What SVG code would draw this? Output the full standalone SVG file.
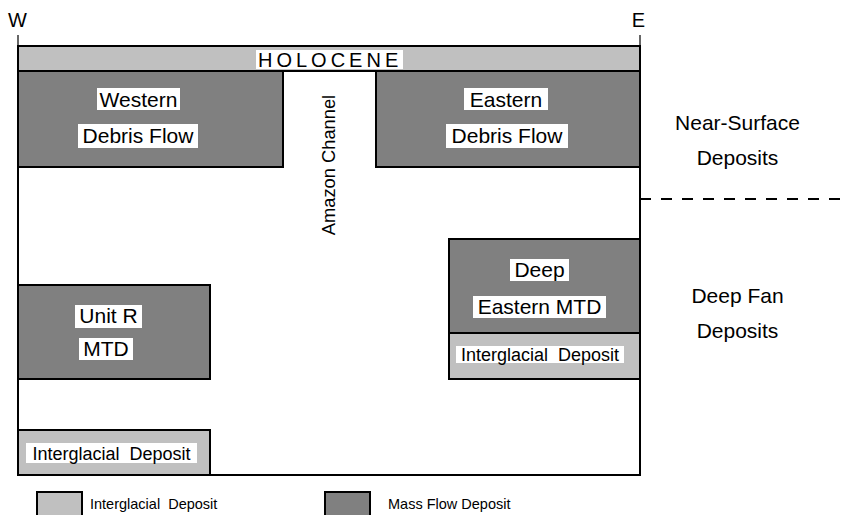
<svg xmlns="http://www.w3.org/2000/svg" width="841" height="515" viewBox="0 0 841 515">
<style>
text{font-family:"Liberation Sans",Arial,sans-serif;fill:#000}
.lt{fill:#c0c0c0;stroke:#000;stroke-width:2}
.dk{fill:#808080;stroke:#000;stroke-width:2}
.bg{fill:#fff}
.m{font-size:21px;text-anchor:middle}
.s{font-size:18px;text-anchor:middle}
.lg{font-size:14.5px}
.ln{stroke:#000;stroke-width:2;fill:none}
.tk{stroke:#000;stroke-width:1.2}
</style>
<rect width="841" height="515" fill="#fff"/>
<g id="frame">
<line class="tk" x1="18" y1="35" x2="18" y2="46"/>
<line class="tk" x1="640" y1="35" x2="640" y2="46"/>
<polyline class="ln" points="18,46 18,475 640,475 640,46"/>
<text x="17.5" y="27" font-size="20" text-anchor="middle">W</text>
<text x="638.5" y="27" font-size="20" text-anchor="middle">E</text>
</g>
<g id="holocene">
<rect class="lt" x="18" y="46" width="622" height="25"/>
<rect class="bg" x="256" y="50" width="147" height="19"/>
<text x="258" y="67" font-size="20" letter-spacing="4">HOLOCENE</text>
</g>
<g id="western-debris-flow">
<rect class="dk" x="18" y="71" width="265" height="96"/>
<rect class="bg" x="97" y="88" width="83" height="22"/>
<text class="m" x="138.5" y="107">Western</text>
<rect class="bg" x="78" y="124" width="120" height="24"/>
<text class="m" x="138" y="143">Debris Flow</text>
</g>
<g id="eastern-debris-flow">
<rect class="dk" x="376" y="71" width="264" height="96"/>
<rect class="bg" x="464" y="88" width="84" height="22"/>
<text class="m" x="506" y="107">Eastern</text>
<rect class="bg" x="446" y="124" width="122" height="24"/>
<text class="m" x="507" y="143">Debris Flow</text>
</g>
<g id="amazon-channel">
<text x="0" y="0" font-size="18.3" text-anchor="middle" transform="translate(335,165) rotate(-90)">Amazon Channel</text>
</g>
<g id="near-surface-deposits">
<text class="m" x="737.5" y="130">Near-Surface</text>
<text class="m" x="737.5" y="165">Deposits</text>
</g>
<g id="connectors">
<line x1="640" y1="199" x2="841" y2="199" stroke="#000" stroke-width="2" stroke-dasharray="11,10"/>
</g>
<g id="deep-fan-deposits">
<text class="m" x="737.5" y="303">Deep Fan</text>
<text class="m" x="737.5" y="338">Deposits</text>
</g>
<g id="deep-eastern-mtd">
<rect class="dk" x="449" y="239" width="191" height="94"/>
<rect class="bg" x="510" y="259" width="59" height="22"/>
<text class="m" x="539.5" y="277">Deep</text>
<rect class="bg" x="473" y="296" width="133" height="22"/>
<text class="m" x="539.5" y="314">Eastern MTD</text>
</g>
<g id="interglacial-east">
<rect class="lt" x="449" y="333" width="191" height="46"/>
<rect class="bg" x="456" y="346" width="168" height="17"/>
<text class="s" x="540" y="361">Interglacial&#160; Deposit</text>
</g>
<g id="unit-r-mtd">
<rect class="dk" x="18" y="285" width="192" height="94"/>
<rect class="bg" x="75" y="305" width="67" height="23"/>
<text class="m" x="108.5" y="323">Unit R</text>
<rect class="bg" x="79" y="338" width="54" height="22"/>
<text class="m" x="106" y="356">MTD</text>
</g>
<g id="interglacial-west">
<rect class="lt" x="18" y="430" width="192" height="45"/>
<rect class="bg" x="26" y="443" width="171" height="20"/>
<text class="s" x="111.5" y="460">Interglacial&#160; Deposit</text>
</g>
<g id="legend">
<rect class="lt" x="37" y="492" width="45" height="30"/>
<text class="lg" x="90" y="509">Interglacial&#160; Deposit</text>
<rect class="dk" x="325" y="492" width="45" height="30"/>
<text class="lg" x="388" y="509">Mass Flow Deposit</text>
</g>
</svg>
